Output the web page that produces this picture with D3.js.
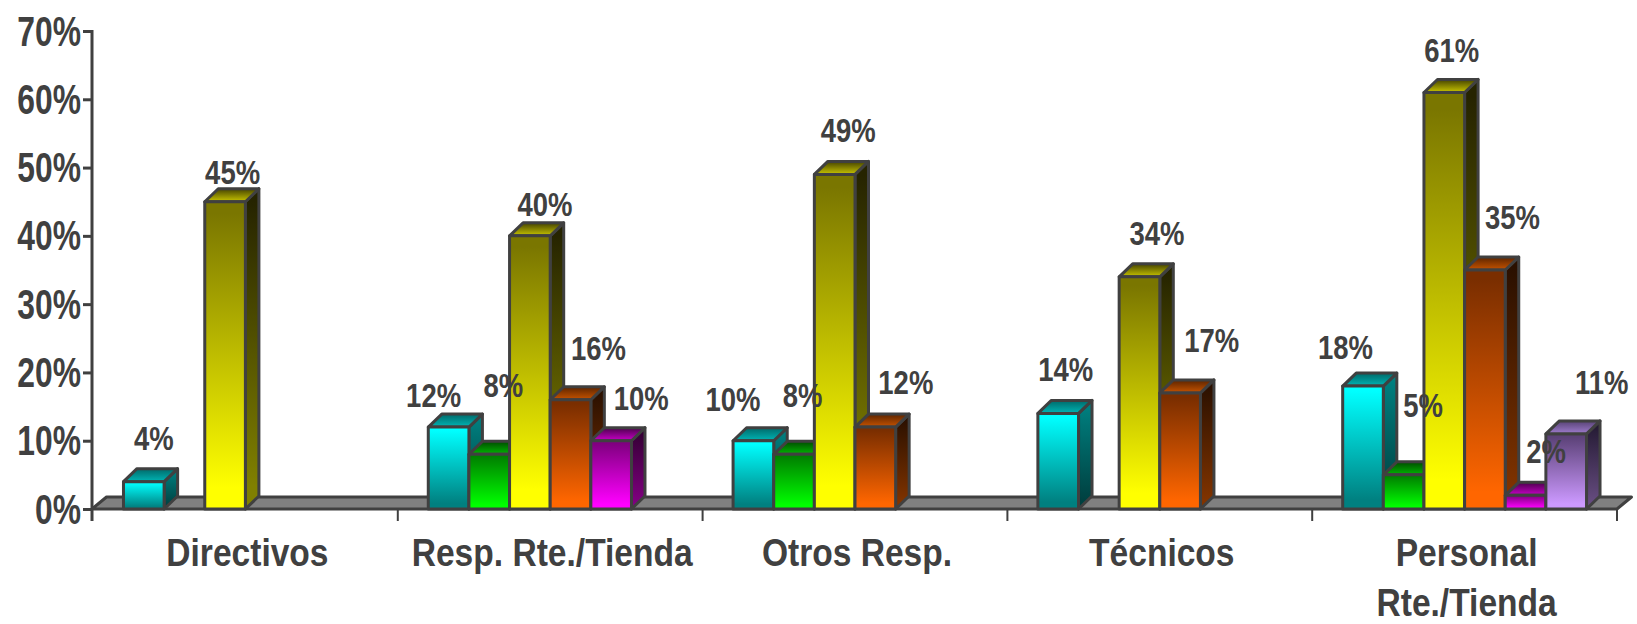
<!DOCTYPE html>
<html>
<head>
<meta charset="utf-8">
<script src="https://cdn.jsdelivr.net/npm/d3@7"></script>
<style>
  html, body { margin: 0; background: #fff; overflow: hidden; }
  text { font-family: "Liberation Sans", Arial, sans-serif; font-weight: bold; fill: #404040; }
</style>
</head>
<body>
<svg id="chart" width="1637" height="624"></svg>
<script>
const categories = ["Directivos", "Resp. Rte./Tienda", "Otros Resp.", "Técnicos", "Personal Rte./Tienda"]
const yTicks = [0, 10, 20, 30, 40, 50, 60, 70]

// one list per colour, null = no bar in that group
const cyanValues    = [4, 12, 10, 14, 18]
const greenValues   = [null, 8, 8, null, 5]
const yellowValues  = [45, 40, 49, 34, 61]
const orangeValues  = [null, 16, 12, 17, 35]
const magentaValues = [null, 10, null, null, 2]
const purpleValues  = [null, null, null, null, 11]

// the labels were placed by hand in the original, offsets from the bar's top centre
const labelNudges = [
  [[10, -32], null, [7.5, -18], null, null, null],
  [[-15, -20], [14, -57], [15, -20], [28, -40], [30, -31], null],
  [[-20.5, -30], [8.5, -47], [13.5, -32], [30.5, -33], null, null],
  [[7.5, -32], null, [17.5, -32], [31.5, -41], null, null],
  [[-17.5, -27], [19.5, -58], [7.5, -30], [27.5, -41], [20.5, -32], [35.5, -40]]
]

const series = [
  {key: "cyan",    values: cyanValues,    front: ["#00ffff", "#008080"], side: ["#008080", "#004040"], top: ["#006c6c", "#00b0b0"]},
  {key: "green",   values: greenValues,   front: ["#008000", "#00ff00"], side: ["#004000", "#008000"], top: ["#005000", "#00b000"]},
  {key: "yellow",  values: yellowValues,  front: ["#7a7600", "#ffff00"], side: ["#262400", "#808000"], top: ["#4a4800", "#c0bc00"]},
  {key: "orange",  values: orangeValues,  front: ["#7a2e00", "#ff6600"], side: ["#2a1000", "#803300"], top: ["#602600", "#c05000"]},
  {key: "magenta", values: magentaValues, front: ["#800080", "#ff00ff"], side: ["#330033", "#800080"], top: ["#500050", "#c000c0"]},
  {key: "purple",  values: purpleValues,  front: ["#5c4278", "#cc99ff"], side: ["#241a33", "#664c80"], top: ["#5a4578", "#9a78c8"]}
]

const margin = {left: 92, right: 1617, top: 31, bottom: 509}
const depthX = 13.5
const depthY = 13
const ink = "#404040"
const lineWidth = 3

const svg = d3.select("#chart")

const x = d3.scaleBand().domain(categories).range([margin.left + 1, margin.right])
const xInner = d3.scaleBand().domain(series.map(d => d.key)).range([0, x.bandwidth()]).paddingOuter(0.75).paddingInner(0)
const y = d3.scaleLinear().domain([0, 70]).range([margin.bottom, margin.top])

// gradients
const defs = svg.append("defs")
series.forEach(s => {
  ["front", "side", "top"].forEach(face => {
    const g = defs.append("linearGradient")
      .attr("id", s.key + "-" + face)
      .attr("x1", 0).attr("y1", 0).attr("x2", 0).attr("y2", 1)
    g.append("stop").attr("offset", "4%").attr("stop-color", s[face][0])
    g.append("stop").attr("offset", "93%").attr("stop-color", s[face][1])
  })
})

// floor
svg.append("path")
  .attr("d", d3.line()([
    [margin.left, margin.bottom],
    [margin.left + depthX + 1, margin.bottom - 12],
    [margin.right + depthX + 1, margin.bottom - 12],
    [margin.right, margin.bottom]
  ]) + "Z")
  .attr("fill", "#808080")
  .attr("stroke", ink)
  .attr("stroke-width", lineWidth)
  .attr("stroke-linejoin", "round")

// axes
// the original text is squeezed sideways and there is no narrow font, so scale x only
const yAxis = d3.axisLeft(y).tickValues(yTicks).tickSize(9).tickPadding(2).tickFormat(d => d + "%")
const gy = svg.append("g").attr("transform", `translate(${margin.left},0)`).call(yAxis)
gy.select(".domain").remove()
gy.selectAll("line").attr("stroke", ink).attr("stroke-width", lineWidth)
gy.selectAll("text")
  .attr("dy", null)
  .attr("x", null)
  .attr("y", null)
  .attr("transform", "translate(-11,14) scale(0.74,1)")
  .style("font-size", "43px")
  .style("font-family", null)

svg.append("line")
  .attr("x1", margin.left).attr("x2", margin.left)
  .attr("y1", margin.top - 1).attr("y2", margin.bottom + 12)
  .attr("stroke", ink).attr("stroke-width", lineWidth)

const boundaries = categories.map(d => x(d)).concat([margin.right])
svg.selectAll(".xtick")
  .data(boundaries.slice(1))
  .join("line")
  .attr("class", "xtick")
  .attr("x1", d => d).attr("x2", d => d)
  .attr("y1", margin.bottom).attr("y2", margin.bottom + 12)
  .attr("stroke", ink).attr("stroke-width", 2)

// bars, left to right so that each one covers the side of the one before
const bars = []
categories.forEach((c, i) => {
  series.forEach((s, j) => {
    if (s.values[i] !== null) {
      bars.push({category: c, key: s.key, value: s.values[i], nudge: labelNudges[i][j]})
    }
  })
})

const bar = svg.selectAll(".bar")
  .data(bars)
  .join("g")
  .attr("class", "bar")
  .attr("stroke", ink)
  .attr("stroke-width", lineWidth)
  .attr("stroke-linejoin", "round")

const left = d => x(d.category) + xInner(d.key)
const right = d => left(d) + xInner.bandwidth()

bar.append("path")
  .attr("fill", d => `url(#${d.key}-side)`)
  .attr("d", d => d3.line()([
    [right(d), y(d.value)],
    [right(d) + depthX, y(d.value) - depthY],
    [right(d) + depthX, y(0) - depthY],
    [right(d), y(0)]
  ]) + "Z")

bar.append("path")
  .attr("fill", d => `url(#${d.key}-top)`)
  .attr("d", d => d3.line()([
    [left(d), y(d.value)],
    [left(d) + depthX, y(d.value) - depthY],
    [right(d) + depthX, y(d.value) - depthY],
    [right(d), y(d.value)]
  ]) + "Z")

bar.append("rect")
  .attr("fill", d => `url(#${d.key}-front)`)
  .attr("x", left)
  .attr("y", d => y(d.value))
  .attr("width", xInner.bandwidth())
  .attr("height", d => y(0) - y(d.value))

// value labels go last, some of them sit over the bars
svg.selectAll(".value")
  .data(bars)
  .join("text")
  .attr("class", "value")
  .attr("text-anchor", "middle")
  .style("font-size", "33.5px")
  .attr("transform", d => {
    const lx = left(d) + xInner.bandwidth() / 2 + d.nudge[0]
    const ly = y(d.value) + d.nudge[1]
    return `translate(${lx},${ly}) scale(0.82,1)`
  })
  .text(d => d.value + "%")

// category labels, the last one breaks in two lines
const catLines = []
categories.forEach(c => {
  const lines = c === "Personal Rte./Tienda" ? ["Personal", "Rte./Tienda"] : [c]
  lines.forEach((line, i) => catLines.push({category: c, line: line, row: i}))
})

svg.selectAll(".cat")
  .data(catLines)
  .join("text")
  .attr("class", "cat")
  .attr("text-anchor", "middle")
  .style("font-size", "39.5px")
  .attr("transform", d => {
    const lx = x(d.category) + x.bandwidth() / 2 + 2
    return `translate(${lx},${566 + d.row * 50}) scale(0.85,1)`
  })
  .text(d => d.line)
</script>
</body>
</html>
